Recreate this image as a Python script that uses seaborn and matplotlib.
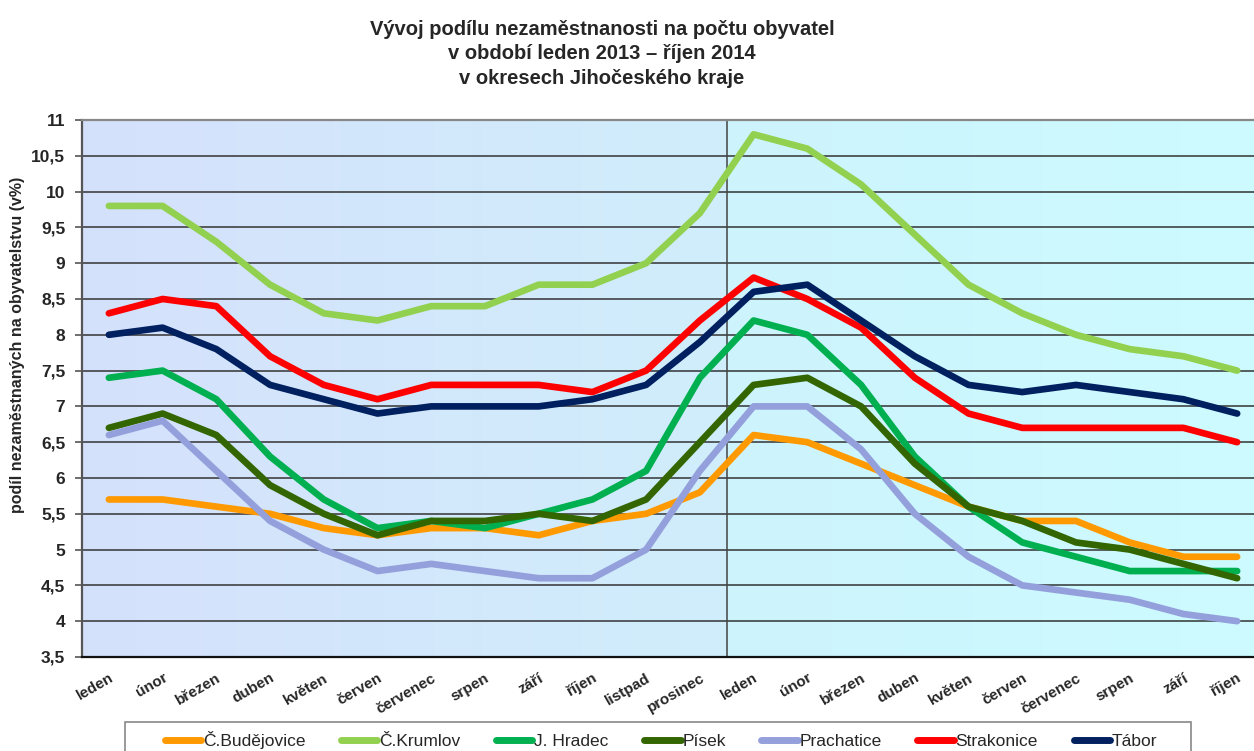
import numpy as np
import pandas as pd
import matplotlib
matplotlib.use('Agg')
import matplotlib.pyplot as plt
from matplotlib.patches import Rectangle
import seaborn as sns

# měsíce leden 2013 – říjen 2014
mesice = ['leden', 'únor', 'březen', 'duben', 'květen', 'červen', 'červenec',
          'srpen', 'září', 'říjen', 'listpad', 'prosinec',
          'leden', 'únor', 'březen', 'duben', 'květen', 'červen', 'červenec',
          'srpen', 'září', 'říjen']

budejovice = [5.7, 5.7, 5.6, 5.5, 5.3, 5.2, 5.3, 5.3, 5.2, 5.4, 5.5, 5.8,
              6.6, 6.5, 6.2, 5.9, 5.6, 5.4, 5.4, 5.1, 4.9, 4.9]
krumlov = [9.8, 9.8, 9.3, 8.7, 8.3, 8.2, 8.4, 8.4, 8.7, 8.7, 9.0, 9.7,
           10.8, 10.6, 10.1, 9.4, 8.7, 8.3, 8.0, 7.8, 7.7, 7.5]
hradec = [7.4, 7.5, 7.1, 6.3, 5.7, 5.3, 5.4, 5.3, 5.5, 5.7, 6.1, 7.4,
          8.2, 8.0, 7.3, 6.3, 5.6, 5.1, 4.9, 4.7, 4.7, 4.7]
pisek = [6.7, 6.9, 6.6, 5.9, 5.5, 5.2, 5.4, 5.4, 5.5, 5.4, 5.7, 6.5,
         7.3, 7.4, 7.0, 6.2, 5.6, 5.4, 5.1, 5.0, 4.8, 4.6]
prachatice = [6.6, 6.8, 6.1, 5.4, 5.0, 4.7, 4.8, 4.7, 4.6, 4.6, 5.0, 6.1,
              7.0, 7.0, 6.4, 5.5, 4.9, 4.5, 4.4, 4.3, 4.1, 4.0]
strakonice = [8.3, 8.5, 8.4, 7.7, 7.3, 7.1, 7.3, 7.3, 7.3, 7.2, 7.5, 8.2,
              8.8, 8.5, 8.1, 7.4, 6.9, 6.7, 6.7, 6.7, 6.7, 6.5]
tabor = [8.0, 8.1, 7.8, 7.3, 7.1, 6.9, 7.0, 7.0, 7.0, 7.1, 7.3, 7.9,
         8.6, 8.7, 8.2, 7.7, 7.3, 7.2, 7.3, 7.2, 7.1, 6.9]

okresy = ['Č.Budějovice', 'Č.Krumlov', 'J. Hradec', 'Písek',
          'Prachatice', 'Strakonice', 'Tábor']
barvy = ['#FF9900', '#92D050', '#00B050', '#336600',
         '#94A0DC', '#FF0000', '#002060']
y_ticks = [3.5, 4, 4.5, 5, 5.5, 6, 6.5, 7, 7.5, 8, 8.5, 9, 9.5, 10, 10.5, 11]

serie = [budejovice, krumlov, hradec, pisek, prachatice, strakonice, tabor]
df = pd.concat([pd.DataFrame({'x': range(len(mesice)), 'hodnota': s, 'okres': o})
                for s, o in zip(serie, okresy)], ignore_index=True)

sns.set_style('white')
plt.rcParams['font.family'] = ['Liberation Sans', 'DejaVu Sans']

fig = plt.figure(figsize=(12.54, 7.51), dpi=100)
ax = fig.add_axes([0.0654, 0.1252, 0.9426, 0.715])

# pozadí s přechodem (2013 / 2014)
n = len(mesice)
grad1 = np.linspace([0.835, 0.882, 0.984], [0.816, 0.933, 0.988], 200)[None, :, :]
grad2 = np.linspace([0.805, 0.955, 0.992], [0.800, 0.985, 1.0], 200)[None, :, :]
ax.imshow(grad1, extent=(-0.5, 11.5, 3.5, 11), aspect='auto', zorder=0)
ax.imshow(grad2, extent=(11.5, n - 0.5, 3.5, 11), aspect='auto', zorder=0)

for y in y_ticks[1:-1]:
    ax.axhline(y, color='#333333', lw=1.1, zorder=1)
ax.axvline(11.5, color='#444444', lw=1.1, zorder=1)

sns.lineplot(data=df, x='x', y='hodnota', hue='okres', hue_order=okresy,
             palette=barvy, lw=4.8, ax=ax, zorder=3, legend=False,
             solid_capstyle='round')

ax.set_xlim(-0.5, n - 0.5)
ax.set_ylim(3.5, 11)
ax.set_xticks(range(n))
ax.set_xticklabels(mesice, rotation=30, ha='right', va='top',
                   rotation_mode='anchor', fontsize=11, fontweight='bold')
ax.set_yticks(y_ticks)
ax.set_yticklabels([('%g' % v).replace('.', ',') for v in y_ticks],
                   fontsize=12.5, fontweight='bold')
ax.tick_params(axis='y', length=5, width=1.2, color='#555555', pad=7, left=True)
ax.tick_params(axis='x', length=0, pad=10)
ax.set_xlabel('')
ax.set_ylabel('')

ax.spines['left'].set_color('#555555')
ax.spines['left'].set_linewidth(1.6)
ax.spines['bottom'].set_color('#111111')
ax.spines['bottom'].set_linewidth(1.6)
ax.spines['top'].set_color('#888888')
ax.spines['top'].set_linewidth(1.6)
ax.spines['right'].set_visible(False)

fig.text(0.48, 0.9734, 'Vývoj podílu nezaměstnanosti na počtu obyvatel\n'
         'v období leden 2013 – říjen 2014\nv okresech Jihočeského kraje',
         ha='center', va='top', fontsize=14.5, fontweight='bold', linespacing=1.36)
fig.text(18 / 1254, 1 - 345 / 751, 'podíl nezaměstnaných na obyvatelstvu (v%)',
         rotation=90, ha='center', va='center', fontsize=11.5, fontweight='bold')

# rámeček legendy (spodní část je mimo obrázek)
fig.patches.append(Rectangle((125 / 1254, -0.05), (1191 - 125) / 1254, 0.05 + 29 / 751,
                             transform=fig.transFigure, facecolor='white',
                             edgecolor='#888888', lw=1.2, zorder=1))
handles = [plt.Line2D([], [], color=c, lw=5, solid_capstyle='round') for c in barvy]
leg = fig.legend(handles, okresy, loc='center', bbox_to_anchor=(661 / 1254, 1 - 740 / 751),
                 ncol=7, fontsize=12.5, frameon=False,
                 handlelength=2.1, handletextpad=0.1, columnspacing=2.05,
                 borderpad=0, borderaxespad=0)

fig.savefig('out.png', dpi=100)
